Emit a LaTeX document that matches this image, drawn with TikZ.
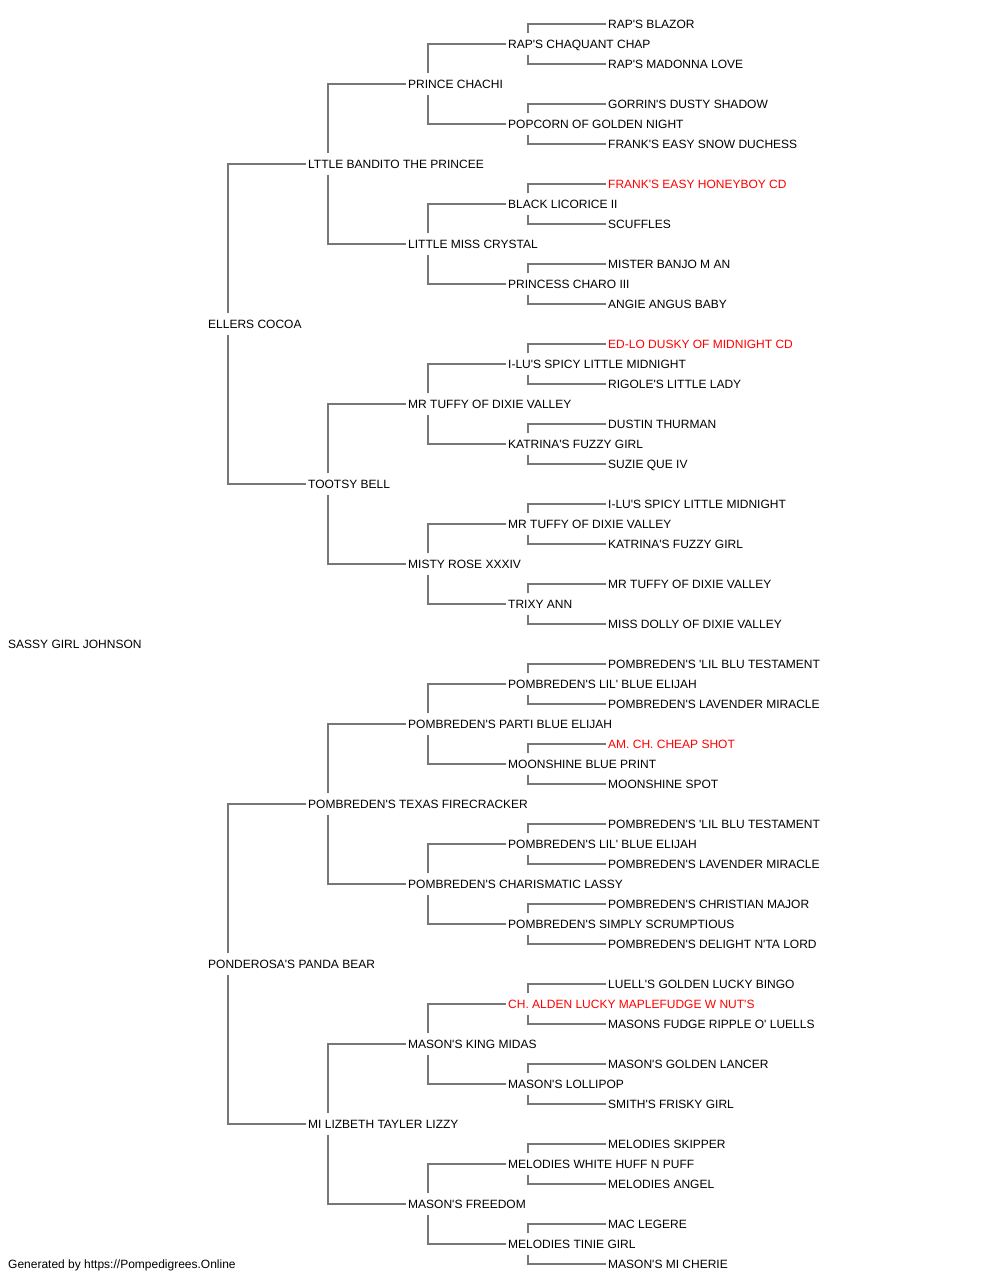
\documentclass[tikz,border=0pt]{standalone}
\usepackage{fontspec}
\setmainfont{Liberation Sans}[Ligatures=TeXOff]
\definecolor{linkgray}{HTML}{777777}

\begin{document}
\begin{tikzpicture}[
        x=1pt, y=-1pt,
        font=\fontsize{12}{14}\selectfont,
        dog/.style={anchor=west, inner xsep=2pt, inner ysep=3pt, text height=12pt, text depth=3pt, text=black},
        champ/.style={dog, text=red},
        link/.style={draw=linkgray, line width=2pt},
    ]
    \useasboundingbox (0,0) rectangle (1000,1280);

    % Con chó chính (thế hệ 0)
    \node[dog] (g0-0) at (6,644) {SASSY GIRL JOHNSON};

    % Thế hệ 1: bố mẹ
    \foreach \name/\kind [count=\k from 0] in {
        ELLERS COCOA/dog,
        PONDEROSA'S PANDA BEAR/dog} {
        \pgfmathtruncatemacro{\rowy}{24 + 20*(32*\k + 15)}
        \node[\kind] (g1-\k) at (206,\rowy) {\name};
    }

    % Thế hệ 2: ông bà
    \foreach \name/\kind [count=\k from 0] in {
        LTTLE BANDITO THE PRINCEE/dog,
        TOOTSY BELL/dog,
        POMBREDEN'S TEXAS FIRECRACKER/dog,
        MI LIZBETH TAYLER LIZZY/dog} {
        \pgfmathtruncatemacro{\rowy}{24 + 20*(16*\k + 7)}
        \node[\kind] (g2-\k) at (306,\rowy) {\name};
    }

    % Thế hệ 3
    \foreach \name/\kind [count=\k from 0] in {
        PRINCE CHACHI/dog,
        LITTLE MISS CRYSTAL/dog,
        MR TUFFY OF DIXIE VALLEY/dog,
        MISTY ROSE XXXIV/dog,
        POMBREDEN'S PARTI BLUE ELIJAH/dog,
        POMBREDEN'S CHARISMATIC LASSY/dog,
        MASON'S KING MIDAS/dog,
        MASON'S FREEDOM/dog} {
        \pgfmathtruncatemacro{\rowy}{24 + 20*(8*\k + 3)}
        \node[\kind] (g3-\k) at (406,\rowy) {\name};
    }

    % Thế hệ 4
    \foreach \name/\kind [count=\k from 0] in {
        RAP'S CHAQUANT CHAP/dog,
        POPCORN OF GOLDEN NIGHT/dog,
        BLACK LICORICE II/dog,
        PRINCESS CHARO III/dog,
        I-LU'S SPICY LITTLE MIDNIGHT/dog,
        KATRINA'S FUZZY GIRL/dog,
        MR TUFFY OF DIXIE VALLEY/dog,
        TRIXY ANN/dog,
        POMBREDEN'S LIL' BLUE ELIJAH/dog,
        MOONSHINE BLUE PRINT/dog,
        POMBREDEN'S LIL' BLUE ELIJAH/dog,
        POMBREDEN'S SIMPLY SCRUMPTIOUS/dog,
        CH. ALDEN LUCKY MAPLEFUDGE W NUT'S/champ,
        MASON'S LOLLIPOP/dog,
        MELODIES WHITE HUFF N PUFF/dog,
        MELODIES TINIE GIRL/dog} {
        \pgfmathtruncatemacro{\rowy}{24 + 20*(4*\k + 1)}
        \node[\kind] (g4-\k) at (506,\rowy) {\name};
    }

    % Thế hệ 5 (cột ngoài cùng)
    \foreach \name/\kind [count=\k from 0] in {
        RAP'S BLAZOR/dog,
        RAP'S MADONNA LOVE/dog,
        GORRIN'S DUSTY SHADOW/dog,
        FRANK'S EASY SNOW DUCHESS/dog,
        FRANK'S EASY HONEYBOY CD/champ,
        SCUFFLES/dog,
        MISTER BANJO M AN/dog,
        ANGIE ANGUS BABY/dog,
        ED-LO DUSKY OF MIDNIGHT CD/champ,
        RIGOLE'S LITTLE LADY/dog,
        DUSTIN THURMAN/dog,
        SUZIE QUE IV/dog,
        I-LU'S SPICY LITTLE MIDNIGHT/dog,
        KATRINA'S FUZZY GIRL/dog,
        MR TUFFY OF DIXIE VALLEY/dog,
        MISS DOLLY OF DIXIE VALLEY/dog,
        POMBREDEN'S 'LIL BLU TESTAMENT/dog,
        POMBREDEN'S LAVENDER MIRACLE/dog,
        AM. CH. CHEAP SHOT/champ,
        MOONSHINE SPOT/dog,
        POMBREDEN'S 'LIL BLU TESTAMENT/dog,
        POMBREDEN'S LAVENDER MIRACLE/dog,
        POMBREDEN'S CHRISTIAN MAJOR/dog,
        POMBREDEN'S DELIGHT N'TA LORD/dog,
        LUELL'S GOLDEN LUCKY BINGO/dog,
        MASONS FUDGE RIPPLE O' LUELLS/dog,
        MASON'S GOLDEN LANCER/dog,
        SMITH'S FRISKY GIRL/dog,
        MELODIES SKIPPER/dog,
        MELODIES ANGEL/dog,
        MAC LEGERE/dog,
        MASON'S MI CHERIE/dog} {
        \pgfmathtruncatemacro{\rowy}{24 + 20*(2*\k)}
        \node[\kind] (g5-\k) at (606,\rowy) {\name};
    }

    % Nối mỗi con với bố (chẵn, phía trên) và mẹ (lẻ, phía dưới)
    \foreach \g/\n in {2/4, 3/8, 4/16, 5/32} {
        \pgfmathtruncatemacro{\last}{\n - 1}
        \pgfmathtruncatemacro{\pg}{\g - 1}
        \foreach \k in {0,...,\last} {
            \pgfmathtruncatemacro{\p}{floor(\k / 2)}
            \ifodd\k
                \draw[link] ([xshift=22pt]g\pg-\p.south west) |- (g\g-\k.west);
            \else
                \draw[link] ([xshift=22pt]g\pg-\p.north west) |- (g\g-\k.west);
            \fi
        }
    }

    % Dòng chú thích cuối trang
    \node[dog] (credit) at (6,1264) {Generated by https://Pompedigrees.Online};

\end{tikzpicture}
\end{document}
